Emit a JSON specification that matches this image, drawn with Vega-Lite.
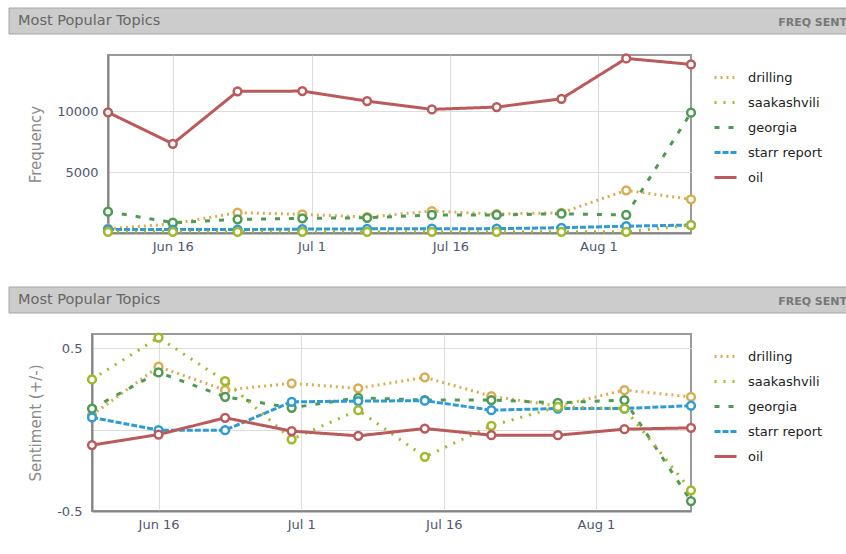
{
  "$schema": "https://vega.github.io/schema/vega-lite/v6.json",
  "background": "white",
  "padding": {"left": 8, "top": 7, "right": 0, "bottom": 0},
  "config": {
    "font": "DejaVu Sans",
    "view": {"stroke": "#9a9a9a", "strokeWidth": 2},
    "axis": {"labelFont": "DejaVu Sans", "labelFontSize": 13, "labelColor": "#4f5670", "titleFont": "DejaVu Sans", "titleFontSize": 15, "titleColor": "#8a8a8a", "titleFontWeight": "normal", "gridColor": "#dddddd", "gridWidth": 1, "domainColor": "#858585", "domainWidth": 2, "ticks": false},
    "legend": {"labelFont": "DejaVu Sans", "labelFontSize": 13, "labelColor": "#222222", "symbolType": "stroke", "symbolSize": 484, "symbolStrokeWidth": 3, "padding": 10, "offset": 6, "rowPadding": 5, "labelOffset": 10},
    "title": {"font": "DejaVu Sans", "fontWeight": "normal"}
  },
  "datasets": {
    "topics": [
      {"date": "2008-06-09", "topic": "drilling", "freq": 350, "sent": 0.09},
      {"date": "2008-06-16", "topic": "drilling", "freq": 750, "sent": 0.387},
      {"date": "2008-06-23", "topic": "drilling", "freq": 1670, "sent": 0.243},
      {"date": "2008-06-30", "topic": "drilling", "freq": 1530, "sent": 0.285},
      {"date": "2008-07-07", "topic": "drilling", "freq": 1300, "sent": 0.254},
      {"date": "2008-07-14", "topic": "drilling", "freq": 1800, "sent": 0.322},
      {"date": "2008-07-21", "topic": "drilling", "freq": 1550, "sent": 0.206},
      {"date": "2008-07-28", "topic": "drilling", "freq": 1660, "sent": 0.145},
      {"date": "2008-08-04", "topic": "drilling", "freq": 3500, "sent": 0.243},
      {"date": "2008-08-11", "topic": "drilling", "freq": 2760, "sent": 0.202},
      {"date": "2008-06-09", "topic": "georgia", "freq": 1750, "sent": 0.13},
      {"date": "2008-06-16", "topic": "georgia", "freq": 850, "sent": 0.352},
      {"date": "2008-06-23", "topic": "georgia", "freq": 1120, "sent": 0.202},
      {"date": "2008-06-30", "topic": "georgia", "freq": 1200, "sent": 0.134},
      {"date": "2008-07-07", "topic": "georgia", "freq": 1250, "sent": 0.196},
      {"date": "2008-07-14", "topic": "georgia", "freq": 1480, "sent": 0.182},
      {"date": "2008-07-21", "topic": "georgia", "freq": 1480, "sent": 0.182},
      {"date": "2008-07-28", "topic": "georgia", "freq": 1580, "sent": 0.165},
      {"date": "2008-08-04", "topic": "georgia", "freq": 1480, "sent": 0.182},
      {"date": "2008-08-11", "topic": "georgia", "freq": 9870, "sent": -0.439},
      {"date": "2008-06-09", "topic": "starr report", "freq": 290, "sent": 0.075},
      {"date": "2008-06-16", "topic": "starr report", "freq": 280, "sent": -0.003},
      {"date": "2008-06-23", "topic": "starr report", "freq": 280, "sent": -0.003},
      {"date": "2008-06-30", "topic": "starr report", "freq": 320, "sent": 0.171},
      {"date": "2008-07-07", "topic": "starr report", "freq": 340, "sent": 0.176},
      {"date": "2008-07-14", "topic": "starr report", "freq": 350, "sent": 0.178},
      {"date": "2008-07-21", "topic": "starr report", "freq": 360, "sent": 0.12},
      {"date": "2008-07-28", "topic": "starr report", "freq": 430, "sent": 0.13},
      {"date": "2008-08-04", "topic": "starr report", "freq": 560, "sent": 0.13},
      {"date": "2008-08-11", "topic": "starr report", "freq": 650, "sent": 0.147},
      {"date": "2008-06-09", "topic": "saakashvili", "freq": 100, "sent": 0.309},
      {"date": "2008-06-16", "topic": "saakashvili", "freq": 100, "sent": 0.566},
      {"date": "2008-06-23", "topic": "saakashvili", "freq": 100, "sent": 0.299},
      {"date": "2008-06-30", "topic": "saakashvili", "freq": 100, "sent": -0.059},
      {"date": "2008-07-07", "topic": "saakashvili", "freq": 100, "sent": 0.12},
      {"date": "2008-07-14", "topic": "saakashvili", "freq": 100, "sent": -0.167},
      {"date": "2008-07-21", "topic": "saakashvili", "freq": 100, "sent": 0.024},
      {"date": "2008-07-28", "topic": "saakashvili", "freq": 100, "sent": 0.14},
      {"date": "2008-08-04", "topic": "saakashvili", "freq": 100, "sent": 0.13},
      {"date": "2008-08-11", "topic": "saakashvili", "freq": 650, "sent": -0.373},
      {"date": "2008-06-09", "topic": "oil", "freq": 9900, "sent": -0.095},
      {"date": "2008-06-16", "topic": "oil", "freq": 7320, "sent": -0.03},
      {"date": "2008-06-23", "topic": "oil", "freq": 11620, "sent": 0.073},
      {"date": "2008-06-30", "topic": "oil", "freq": 11640, "sent": -0.009},
      {"date": "2008-07-07", "topic": "oil", "freq": 10820, "sent": -0.038},
      {"date": "2008-07-14", "topic": "oil", "freq": 10140, "sent": 0.007},
      {"date": "2008-07-21", "topic": "oil", "freq": 10330, "sent": -0.034},
      {"date": "2008-07-28", "topic": "oil", "freq": 11010, "sent": -0.034},
      {"date": "2008-08-04", "topic": "oil", "freq": 14320, "sent": 0.003},
      {"date": "2008-08-11", "topic": "oil", "freq": 13830, "sent": 0.011}
    ]
  },
  "spacing": 32,
  "align": "none",
  "resolve": {"scale": {"color": "independent", "strokeDash": "independent"}, "legend": {"color": "independent", "strokeDash": "independent"}},
  "vconcat": [
    {
      "spacing": 13,
      "align": "none",
      "resolve": {"scale": {"color": "independent", "strokeDash": "independent"}, "legend": {"color": "independent", "strokeDash": "independent"}},
      "vconcat": [
        {
          "title": {"text": "Most Popular Topics", "anchor": "start", "frame": "group", "orient": "top", "offset": -28, "baseline": "middle", "dx": 9, "fontSize": 14.5, "color": "#666666"},
          "align": "none",
          "vconcat": [
            {
              "width": 838, "height": 26,
              "view": {"stroke": null},
              "title": {"text": "FREQ  SENT", "anchor": "end", "frame": "group", "orient": "top", "offset": -26, "baseline": "middle", "dx": 0, "fontSize": 11, "fontWeight": "bold", "color": "#777777"},
              "data": {"values": [{"panel": "frequency"}]},
              "mark": {"type": "rect", "color": "#cccccc", "stroke": "#a5a5a5", "strokeWidth": 1},
              "encoding": {}
            }
          ]
        },
        {
          "spacing": 0,
          "align": "none",
          "resolve": {"scale": {"color": "independent", "strokeDash": "independent"}, "legend": {"color": "independent", "strokeDash": "independent"}},
          "hconcat": [
            {
              "width": 18, "height": 1,
              "view": {"stroke": null},
              "data": {"values": [{"panel": "frequency"}]},
              "mark": {"type": "rect", "opacity": 0},
              "encoding": {}
            },
            {
              "width": 583, "height": 178,
              "data": {"name": "topics"},
              "encoding": {
                "x": {"field": "date", "type": "temporal", "scale": {"type": "utc", "nice": false, "domain": [{"year": 2008, "month": "jun", "date": 9, "utc": true}, {"year": 2008, "month": "aug", "date": 11, "utc": true}]},
                  "axis": {"title": null, "format": "%b %-d", "labelPadding": 7, "grid": true, "values": [{"year": 2008, "month": "jun", "date": 16, "utc": true}, {"year": 2008, "month": "jul", "date": 1, "utc": true}, {"year": 2008, "month": "jul", "date": 16, "utc": true}, {"year": 2008, "month": "aug", "date": 1, "utc": true}]}},
                "y": {"field": "freq", "type": "quantitative", "scale": {"domain": [0, 14600], "nice": false},
                  "axis": {"title": "Frequency", "values": [0, 5000, 10000], "format": "d", "labelExpr": "datum.value == 0 ? '' : datum.label", "labelPadding": 10, "titlePadding": 13}},
                "color": {"field": "topic", "type": "nominal", "scale": {"domain": ["drilling", "saakashvili", "georgia", "starr report", "oil"], "range": ["#d6ae55", "#a2b72b", "#4f9a52", "#2f9bd2", "#ba5a5a"]}, "legend": {"title": null, "symbolType": "stroke"}}
              },
              "layer": [
                {
                  "mark": {"type": "line", "strokeWidth": 3},
                  "encoding": {
                    "strokeDash": {"field": "topic", "type": "nominal", "scale": {"domain": ["drilling", "saakashvili", "georgia", "starr report", "oil"], "range": [[2, 4], [2, 7], [5, 9], [6, 2], [1, 0]]}, "legend": {"title": null, "symbolType": "stroke"}}
                  }
                },
                {
                  "mark": {"type": "point", "filled": false, "fill": "white", "fillOpacity": 1, "opacity": 1, "size": 60, "strokeWidth": 2.5}
                }
              ]
            }
          ]
        }
      ]
    },
    {
      "spacing": 13,
      "align": "none",
      "resolve": {"scale": {"color": "independent", "strokeDash": "independent"}, "legend": {"color": "independent", "strokeDash": "independent"}},
      "vconcat": [
        {
          "title": {"text": "Most Popular Topics", "anchor": "start", "frame": "group", "orient": "top", "offset": -28, "baseline": "middle", "dx": 9, "fontSize": 14.5, "color": "#666666"},
          "align": "none",
          "vconcat": [
            {
              "width": 838, "height": 26,
              "view": {"stroke": null},
              "title": {"text": "FREQ  SENT", "anchor": "end", "frame": "group", "orient": "top", "offset": -26, "baseline": "middle", "dx": 0, "fontSize": 11, "fontWeight": "bold", "color": "#777777"},
              "data": {"values": [{"panel": "sentiment"}]},
              "mark": {"type": "rect", "color": "#cccccc", "stroke": "#a5a5a5", "strokeWidth": 1},
              "encoding": {}
            }
          ]
        },
        {
          "spacing": 0,
          "align": "none",
          "resolve": {"scale": {"color": "independent", "strokeDash": "independent"}, "legend": {"color": "independent", "strokeDash": "independent"}},
          "hconcat": [
            {
              "width": 18, "height": 1,
              "view": {"stroke": null},
              "data": {"values": [{"panel": "sentiment"}]},
              "mark": {"type": "rect", "opacity": 0},
              "encoding": {}
            },
            {
              "width": 599, "height": 177,
              "data": {"name": "topics"},
              "encoding": {
                "x": {"field": "date", "type": "temporal", "scale": {"type": "utc", "nice": false, "domain": [{"year": 2008, "month": "jun", "date": 9, "utc": true}, {"year": 2008, "month": "aug", "date": 11, "utc": true}]},
                  "axis": {"title": null, "format": "%b %-d", "labelPadding": 7, "grid": true, "values": [{"year": 2008, "month": "jun", "date": 16, "utc": true}, {"year": 2008, "month": "jul", "date": 1, "utc": true}, {"year": 2008, "month": "jul", "date": 16, "utc": true}, {"year": 2008, "month": "aug", "date": 1, "utc": true}]}},
                "y": {"field": "sent", "type": "quantitative", "scale": {"domain": [-0.5, 0.588], "nice": false, "zero": false},
                  "axis": {"title": "Sentiment (+/-)", "values": [-0.5, 0, 0.5], "labelExpr": "datum.value == 0 ? '' : (datum.value > 0 ? '0.5' : '-0.5')", "labelPadding": 10, "titlePadding": 13}},
                "color": {"field": "topic", "type": "nominal", "scale": {"domain": ["drilling", "saakashvili", "georgia", "starr report", "oil"], "range": ["#d6ae55", "#a2b72b", "#4f9a52", "#2f9bd2", "#ba5a5a"]}, "legend": {"title": null, "symbolType": "stroke"}}
              },
              "layer": [
                {
                  "mark": {"type": "line", "strokeWidth": 3},
                  "encoding": {
                    "strokeDash": {"field": "topic", "type": "nominal", "scale": {"domain": ["drilling", "saakashvili", "georgia", "starr report", "oil"], "range": [[2, 4], [2, 7], [5, 9], [6, 2], [1, 0]]}, "legend": {"title": null, "symbolType": "stroke"}}
                  }
                },
                {
                  "mark": {"type": "point", "filled": false, "fill": "white", "fillOpacity": 1, "opacity": 1, "size": 60, "strokeWidth": 2.5}
                }
              ]
            }
          ]
        }
      ]
    }
  ]
}
